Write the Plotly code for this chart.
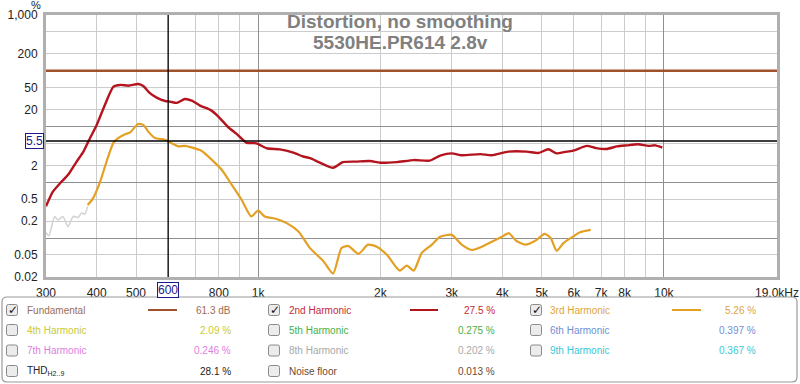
import math
import plotly.graph_objects as go

# ---------------- data ----------------
FREQ_H2 = [300, 312, 325, 340, 357, 371, 385, 400, 419, 440, 457, 479, 506, 521, 541, 562, 590, 606,
           630, 660, 686, 719, 762, 798, 844, 885, 937, 990, 1050, 1131, 1221, 1291, 1342, 1420, 1530,
           1617, 1750, 1887, 2000, 2196, 2418, 2650, 2808, 3000, 3175, 3528, 3765, 4140, 4590, 4905,
           5190, 5440, 5700, 5980, 6460, 6800, 7220, 7660, 8110, 8640, 9160, 9520, 9910]
H2 = [0.37, 0.68, 0.96, 1.36, 2.35, 3.55, 6.17, 10.7, 24.4, 51.9, 55.7, 54, 58, 53.5, 39.6, 33, 28.7, 28,
      26.5, 31.2, 29.2, 23.7, 19.9, 15.1, 9.7, 7.4, 5.1, 5.0, 4.07, 3.9, 3.4, 2.9, 2.7, 2.25, 1.82,
      2.3, 2.35, 2.4, 2.24, 2.3, 2.5, 2.45, 3.0, 3.3, 3.05, 3.2, 3.05, 3.55, 3.55, 3.35,
      3.9, 3.3, 3.5, 3.7, 4.5, 4.1, 3.95, 4.4, 4.6, 4.8, 4.5, 4.6, 4.2]

FREQ_H3_LOW = [300, 305, 315, 321, 330, 340, 350, 360, 367, 374, 380]
H3_LOW = [0.125, 0.11, 0.244, 0.21, 0.244, 0.16, 0.244, 0.235, 0.28, 0.27, 0.37]

FREQ_H3 = [380, 392, 408, 423, 440, 452, 470, 483, 506, 521, 536, 557, 589, 612, 636, 660, 726, 769,
           814, 861, 911, 961, 1000, 1038, 1110, 1176, 1257, 1342, 1450, 1530, 1605, 1668, 1767, 1866,
           1960, 2076, 2196, 2235, 2325, 2418, 2530, 2680, 2808, 3000, 3175, 3360, 3560, 3765, 3975,
           4150, 4320, 4555, 4830, 5080, 5260, 5440, 5655, 5760, 5980, 6210, 6600]
H3 = [0.39, 0.52, 1.03, 2.35, 5.15, 6.2, 7.25, 7.8, 11.1, 10.7, 8.1, 6.2, 5.8, 5.0, 4.4, 4.5, 3.65, 2.52,
      1.66, 0.9, 0.48, 0.244, 0.31, 0.244, 0.22, 0.185, 0.131, 0.066, 0.038, 0.023, 0.066, 0.072, 0.052, 0.076,
      0.07, 0.05, 0.029, 0.026, 0.032, 0.026, 0.054, 0.076, 0.105, 0.114, 0.076, 0.061, 0.07, 0.086, 0.104,
      0.122, 0.09, 0.076, 0.09, 0.119, 0.1, 0.059, 0.081, 0.09, 0.107, 0.127, 0.14]

FUND_FREQ = [300, 19000]
FUND = [100, 100]

CURSOR_F = 600
CURSOR_V = 5.5

X_RANGE = [300, 19000]
Y_RANGE = [0.02, 1000]
X_TICKS = [300, 400, 500, 600, 700, 800, 900, 1000, 2000, 3000, 4000, 5000, 6000, 7000, 8000, 9000, 10000, 19000]
X_TEXT = ["300", "400", "500", " ", " ", "800", " ", "1k", "2k", "3k", "4k", "5k", "6k", "7k", "8k", " ", "10k", "19.0kHz"]
Y_TICKS = [1000, 500, 200, 100, 50, 20, 10, 5, 2, 1, 0.5, 0.2, 0.1, 0.05, 0.02]
Y_TEXT = ["1,000", " ", "200", " ", "50", "20", " ", " ", "2", " ", "0.5", "0.2", " ", "0.05", "0.02"]
X_DECADES = [1000, 10000]
Y_DECADES = [0.1, 1, 10]

TITLE_1 = "Distortion, no smoothing"
TITLE_2 = "5530HE.PR614 2.8v"

# legend panel rows: (label, value, text colour, checked, line colour or None)
LEGEND = [
    [("Fundamental", "61.3 dB", "#9a6e58", True, "#A0522D"),
     ("2nd Harmonic", "27.5 %", "#c42a36", True, "#B4141E"),
     ("3rd Harmonic", "5.26 %", "#e0a43a", True, "#E3A024")],
    [("4th Harmonic", "2.09 %", "#c9c93a", False, None),
     ("5th Harmonic", "0.275 %", "#48b048", False, None),
     ("6th Harmonic", "0.397 %", "#6f8fd6", False, None)],
    [("7th Harmonic", "0.246 %", "#e07ee0", False, None),
     ("8th Harmonic", "0.202 %", "#a8a8a8", False, None),
     ("9th Harmonic", "0.367 %", "#38c8d8", False, None)],
    [("THD<sub>H2..9</sub>", "28.1 %", "#222222", False, None),
     ("Noise floor", "0.013 %", "#6a4a32", False, None)],
]

# ---------------- layout geometry ----------------
W, H = 800, 384
ML, MR, MT, MB = 46, 23, 15, 107
PW, PH = W - ML - MR, H - MT - MB


def px(x):
    return (x - ML) / PW


def py(y):
    return (H - MB - y) / PH


fig = go.Figure()

fig.add_trace(go.Scatter(x=FUND_FREQ, y=FUND, mode="lines",
                         line=dict(color="#A0522D", width=2.4), hoverinfo="skip"))
fig.add_trace(go.Scatter(x=FREQ_H3_LOW, y=H3_LOW, mode="lines",
                         line=dict(color="#d4d4d4", width=1.6, shape="spline", smoothing=0.6), hoverinfo="skip"))
fig.add_trace(go.Scatter(x=FREQ_H3, y=H3, mode="lines",
                         line=dict(color="#E3A024", width=2.2, shape="spline", smoothing=0.6), hoverinfo="skip"))
fig.add_trace(go.Scatter(x=FREQ_H2, y=H2, mode="lines",
                         line=dict(color="#B4141E", width=2.4, shape="spline", smoothing=0.6), hoverinfo="skip"))
# cursor lines (on the overlay axes, same scale)
fig.add_trace(go.Scatter(x=[CURSOR_F, CURSOR_F], y=Y_RANGE, mode="lines", xaxis="x2", yaxis="y2",
                         line=dict(color="#000000", width=1.3), hoverinfo="skip"))
fig.add_trace(go.Scatter(x=X_RANGE, y=[CURSOR_V, CURSOR_V], mode="lines", xaxis="x2", yaxis="y2",
                         line=dict(color="#000000", width=1.3), hoverinfo="skip"))

tickfont = dict(family="Liberation Sans, Arial, sans-serif", size=12, color="#222222")
lr = [math.log10(v) for v in X_RANGE]
ly = [math.log10(v) for v in Y_RANGE]

fig.update_layout(
    width=W, height=H, margin=dict(l=ML, r=MR, t=MT, b=MB, autoexpand=False),
    paper_bgcolor="white", plot_bgcolor="white", showlegend=False,
    xaxis=dict(type="log", range=lr, tickmode="array", tickvals=X_TICKS, ticktext=X_TEXT,
               showgrid=True, gridcolor="#cccccc", gridwidth=1, zeroline=False, automargin=False,
               showline=True, mirror=True, linecolor="#b0b0b0", linewidth=3,
               ticks="", tickfont=tickfont, ticklabelstandoff=3),
    yaxis=dict(type="log", range=ly, tickmode="array", tickvals=Y_TICKS, ticktext=Y_TEXT,
               showgrid=True, gridcolor="#cccccc", gridwidth=1, zeroline=False, automargin=False,
               showline=True, mirror=True, linecolor="#b0b0b0", linewidth=3,
               ticks="", tickfont=tickfont, ticklabelstandoff=3),
    xaxis2=dict(type="log", range=lr, overlaying="x", anchor="y", tickmode="array", tickvals=X_DECADES,
                showticklabels=False, showgrid=True, gridcolor="#8f8f8f", gridwidth=1, automargin=False,
                zeroline=False, showline=False, ticks=""),
    yaxis2=dict(type="log", range=ly, overlaying="y", anchor="x", tickmode="array", tickvals=Y_DECADES,
                showticklabels=False, showgrid=True, gridcolor="#8f8f8f", gridwidth=1, automargin=False,
                zeroline=False, showline=False, ticks=""),
)

ann = []
shapes = []
AF = "Liberation Sans, Arial, sans-serif"
# titles
ann.append(dict(xref="paper", yref="paper", x=px(400), y=py(21), text="<b>%s</b>" % TITLE_1,
                xanchor="center", yanchor="middle", showarrow=False,
                font=dict(family=AF, size=19, color="#808080")))
ann.append(dict(xref="paper", yref="paper", x=px(400), y=py(43), text="<b>%s</b>" % TITLE_2,
                xanchor="center", yanchor="middle", showarrow=False,
                font=dict(family=AF, size=19, color="#808080")))
# % unit label
ann.append(dict(xref="paper", yref="paper", x=px(36), y=py(5.5), text="%", showarrow=False,
                xanchor="center", yanchor="middle", font=dict(family=AF, size=11, color="#222222")))
# cursor value boxes
ann.append(dict(xref="x", yref="paper", x=math.log10(CURSOR_F), y=py(290), text="600", showarrow=False,
                xanchor="center", yanchor="middle",
                font=dict(family=AF, size=12, color="#1a1a8c"),
                bordercolor="#1a1a8c", borderwidth=1, borderpad=0, bgcolor="white"))
ann.append(dict(xref="paper", yref="y", x=px(34.5), y=math.log10(CURSOR_V), text="5.5", showarrow=False,
                xanchor="center", yanchor="middle",
                font=dict(family=AF, size=12, color="#1a1a8c"),
                bordercolor="#1a1a8c", borderwidth=1, borderpad=0, bgcolor="white"))


def rounded_rect(x0, y0, x1, y1, r):
    X0, X1 = px(x0), px(x1)
    Y0, Y1 = py(y0), py(y1)
    rx, ry = r / PW, r / PH
    return (f"M {X0+rx},{Y0} L {X1-rx},{Y0} Q {X1},{Y0} {X1},{Y0-ry} "
            f"L {X1},{Y1+ry} Q {X1},{Y1} {X1-rx},{Y1} L {X0+rx},{Y1} "
            f"Q {X0},{Y1} {X0},{Y1+ry} L {X0},{Y0-ry} Q {X0},{Y0} {X0+rx},{Y0} Z")


# legend panel frame
shapes.append(dict(type="path", xref="paper", yref="paper", path=rounded_rect(2, 297, 797, 382, 5),
                   line=dict(color="#9a9a9a", width=1.2), fillcolor="white"))

ROW_Y = [310, 330, 350.5, 371]
COLS = [dict(box=12, label=25, line=(148, 177), value=233),
        dict(box=274, label=287, line=(410, 438), value=497),
        dict(box=536, label=548, line=(672, 701), value=758)]
for r, row in enumerate(LEGEND):
    yy = ROW_Y[r]
    for c, item in enumerate(row):
        label, value, col, checked, lcol = item
        cc = COLS[c]
        bx = cc["box"]
        shapes.append(dict(type="path", xref="paper", yref="paper",
                           path=rounded_rect(bx - 5.5, yy - 5.5, bx + 5.5, yy + 5.5, 2),
                           line=dict(color="#8a8a8a", width=1), fillcolor="#ececec"))
        if checked:
            ann.append(dict(xref="paper", yref="paper", x=px(bx + 0.5), y=py(yy), text="<b>✓</b>",
                            xanchor="center", yanchor="middle", showarrow=False,
                            font=dict(family="DejaVu Sans", size=12, color="#111111")))
        ann.append(dict(xref="paper", yref="paper", x=px(cc["label"]), y=py(yy), text=label,
                        xanchor="left", yanchor="middle", showarrow=False,
                        font=dict(family=AF, size=10, color=col)))
        ann.append(dict(xref="paper", yref="paper", x=px(cc["value"]), y=py(yy), text=value,
                        xanchor="right", yanchor="middle", showarrow=False,
                        font=dict(family=AF, size=10, color=col)))
        if lcol:
            shapes.append(dict(type="line", xref="paper", yref="paper",
                               x0=px(cc["line"][0]), x1=px(cc["line"][1]), y0=py(yy), y1=py(yy),
                               line=dict(color=lcol, width=2)))

fig.update_layout(annotations=ann, shapes=shapes)
# the page's default 8px body margin would shift the chart; remove it
fig.write_html("out.html", config={"displayModeBar": False},
               post_script="document.body.style.margin='0px';")
